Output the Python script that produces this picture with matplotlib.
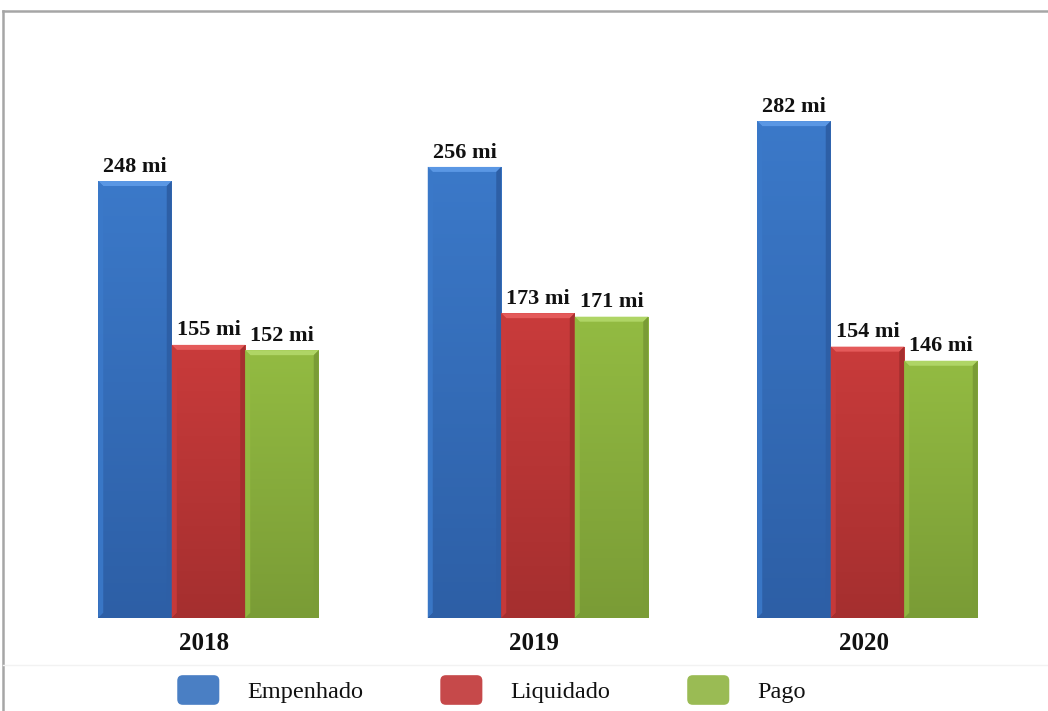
import numpy as np
import matplotlib
matplotlib.use("Agg")
import matplotlib.pyplot as plt
from matplotlib.patches import Polygon, Patch, FancyBboxPatch
from matplotlib.lines import Line2D
from matplotlib.colors import to_rgb
from matplotlib.legend_handler import HandlerPatch

years = ["2018", "2019", "2020"]
series = ["Empenhado", "Liquidado", "Pago"]
empenhado = [248, 256, 282]
liquidado = [155, 173, 154]
pago = [152, 171, 146]
labels_empenhado = ["248 mi", "256 mi", "282 mi"]
labels_liquidado = ["155 mi", "173 mi", "154 mi"]
labels_pago = ["152 mi", "171 mi", "146 mi"]

colors = ["#3b79c9", "#c93b3b", "#93bb42"]
top_colors = ["#5a97e4", "#e45a5a", "#afd565"]
bot_colors = ["#2d5fa6", "#a52f2f", "#7a9c36"]
legend_colors = ["#4a7fc4", "#c6494a", "#9abb54"]

W, H = 1048, 711
fig = plt.figure(figsize=(W / 100, H / 100), dpi=100)
fig.patch.set_facecolor("white")

ax = fig.add_axes([0, (H - 618) / H, 1, 618 / H])
ax.set_xlim(-208.5 / 329.5, (W - 208.5) / 329.5)
ax.set_ylim(0, 618 / 1.762)
ax.axis("off")

x = np.arange(len(years))
w = 73.5 / 329.5
bx = 5 / 329.5   # bevel width in data units
by = 5 / 1.762   # bevel height in data units

serif = ["Liberation Serif", "DejaVu Serif"]

all_vals = [empenhado, liquidado, pago]
all_labels = [labels_empenhado, labels_liquidado, labels_pago]
for i, (vals, labs) in enumerate(zip(all_vals, all_labels)):
    bars = ax.bar(x + (i - 1) * w, vals, width=w, color=colors[i],
                  edgecolor="none", zorder=2)
    for b, lab in zip(bars, labs):
        x0, y0 = b.get_x(), b.get_y()
        bw, bh = b.get_width(), b.get_height()
        grad = np.linspace(0, 1, 100).reshape(-1, 1)
        c_top = np.array(to_rgb(colors[i]))
        c_bot = np.array(to_rgb(bot_colors[i]))
        img = c_bot[None, None, :] * (1 - grad[:, :, None]) + c_top[None, None, :] * grad[:, :, None]
        im = ax.imshow(img, extent=[x0, x0 + bw, y0, y0 + bh], origin="lower",
                       aspect="auto", zorder=2.1)
        im.set_clip_path(b)
        top = Polygon([[x0, y0 + bh], [x0 + bw, y0 + bh],
                       [x0 + bw - bx, y0 + bh - by], [x0 + bx, y0 + bh - by]],
                      closed=True, color=top_colors[i], lw=0, zorder=3)
        left = Polygon([[x0, y0], [x0, y0 + bh], [x0 + bx, y0 + bh - by],
                        [x0 + bx, y0 + by]], closed=True,
                       color=colors[i], alpha=0.9, lw=0, zorder=3)
        right = Polygon([[x0 + bw, y0], [x0 + bw, y0 + bh],
                         [x0 + bw - bx, y0 + bh - by], [x0 + bw - bx, y0 + by]],
                        closed=True, color=bot_colors[i], lw=0, zorder=3)
        bottom = Polygon([[x0, y0], [x0 + bw, y0], [x0 + bw - bx, y0 + by],
                          [x0 + bx, y0 + by]], closed=True,
                         color=bot_colors[i], lw=0, zorder=3)
        for p in (top, left, right, bottom):
            ax.add_patch(p)
        ax.text(x0 + bw / 2, y0 + bh + 2.5, lab, ha="center", va="bottom",
                fontsize=16, fontweight="bold", family=serif, color="#111111",
                zorder=4)

for xi, yr in zip(x, years):
    ax.text(xi - 0.012, -14.5, yr, ha="center", va="center", fontsize=18,
            fontweight="bold", family=serif, color="#111111", clip_on=False)

# frame lines
fig.add_artist(Line2D([3 / W, 1], [1 - 11 / H, 1 - 11 / H], color="#a6a6a6", lw=1.8))
fig.add_artist(Line2D([3 / W, 3 / W], [0, 1 - 11 / H], color="#a6a6a6", lw=1.8))
fig.add_artist(Line2D([3 / W, 1], [1 - 665 / H, 1 - 665 / H], color="#f2f2f2", lw=1.0))


class RoundHandler(HandlerPatch):
    def create_artists(self, legend, orig_handle, xdescent, ydescent, width,
                       height, fontsize, trans):
        p = FancyBboxPatch((-xdescent + 2, -ydescent + 2), width - 4, height - 4,
                           boxstyle="round,pad=2,rounding_size=4",
                           facecolor=orig_handle.get_facecolor(),
                           edgecolor="none", transform=trans)
        return [p]


handles = [Patch(facecolor=c, edgecolor="none") for c in legend_colors]
leg = fig.legend(handles, series, loc="center", bbox_to_anchor=(491.5 / W, 1 - 690 / H),
                 ncol=3, frameon=False, handlelength=1.73, handleheight=1.5,
                 handletextpad=1.15, columnspacing=3.17,
                 handler_map={Patch: RoundHandler()},
                 prop={"family": serif, "size": 17.5})
for t in leg.get_texts():
    t.set_color("#111111")

fig.savefig("out.png", dpi=100, facecolor="white")
